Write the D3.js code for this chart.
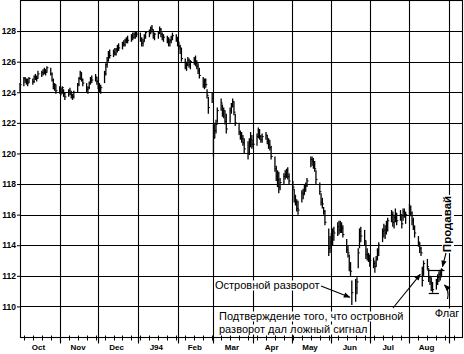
<!DOCTYPE html>
<html><head><meta charset="utf-8">
<script src="https://cdn.jsdelivr.net/npm/d3@7"></script>
<style>
html,body{margin:0;padding:0;background:#fff;}
svg{display:block;}
</style></head>
<body>
<svg id="c" width="464" height="354"></svg>
<script>
// ---------------- DATA ----------------
const firstDay = "1993-10-01";   // first trading day; one bar per weekday
const high = [
124.6,
125.0,125.0,124.9,124.9,125.0, 124.9,125.1,125.2,125.1,125.4, 125.4,125.5,125.6,125.5,125.7, 125.6,125.3,124.9,124.6,124.5,
124.4,124.3,124.4,124.2,124.0, 124.2,124.3,124.1,123.9,124.1, 124.6,125.0,125.4,125.3,124.9, 124.6,124.4,124.7,125.0,125.1,
125.2,125.0,124.8,124.6,124.5, 125.4,125.9,126.3,126.7,126.8, 126.8,126.9,126.9,127.1,127.2, 127.3,127.4,127.5,127.6,127.7,
127.8,127.9,127.9,128.0,128.0, 127.9,127.6,127.5,127.8,128.0, 128.1,128.3,128.4,128.1,127.9, 128.0,128.3,128.2,127.9,127.8,
127.7,127.6,127.5,127.7,127.9, 127.8,127.6,127.3,127.1,126.9, 126.2,126.0,126.3,126.2,126.1, 126.3,126.4,126.1,125.9,125.6,
125.0,124.9,124.9,124.2,123.7, 124.0,122.0,122.0,122.2,123.0, 123.6,123.2,123.0,122.8,122.6, 123.0,123.3,123.6,123.4,122.6,
122.0,121.5,121.4,121.2,121.0, 120.8,121.0,121.4,121.2,120.9, 121.3,121.7,121.6,121.2,121.3, 121.4,121.2,121.0,120.9,120.5,
119.8,119.2,118.9,118.8,118.4, 118.7,118.9,119.0,119.1,118.7, 118.2,117.7,117.3,117.0,116.9, 117.6,117.7,118.0,118.1,118.4,
119.8,119.8,119.7,119.5,118.9, 118.1,117.4,117.1,116.5,116.3, 115.1,114.6,114.8,115.1,115.2, 115.5,115.6,115.6,115.5,115.3,
114.4,114.0,113.4,112.9,111.7, 111.8,111.9,113.8,115.1,115.2, 115.0,114.3,113.8,113.5,113.4, 113.2,113.0,113.3,113.8,114.2,
115.1,115.4,115.3,115.6,115.8, 116.3,116.2,116.0,116.4,116.1, 116.3,116.0,116.4,116.4,116.2, 116.7,116.6,116.2,115.8,115.3,
114.6,114.2,113.9,112.6,113.0, 113.1,112.5,112.0,111.9,111.6, 111.8,112.1,112.3,112.4,112.5
];
const low = [
124.0,
124.4,124.6,124.5,124.4,124.6, 124.5,124.6,124.8,124.7,124.9, 125.0,125.1,125.2,125.1,125.3, 125.1,124.7,124.2,124.1,123.9,
123.9,123.8,123.9,123.7,123.5, 123.7,123.8,123.6,123.5,123.6, 124.0,124.4,124.8,124.7,124.4, 124.0,123.9,124.2,124.5,124.6,
124.7,124.5,124.2,124.0,123.9, 124.6,125.1,125.6,126.0,126.2, 126.3,126.4,126.4,126.6,126.7, 126.8,127.0,127.0,127.2,127.2,
127.3,127.4,127.5,127.5,127.6, 127.3,127.0,127.0,127.3,127.5, 127.6,127.8,127.9,127.5,127.4, 127.5,127.8,127.6,127.4,127.3,
127.2,127.0,127.0,127.2,127.4, 127.3,127.0,126.8,126.5,126.0, 125.5,125.4,125.7,125.6,125.5, 125.8,125.7,125.5,125.2,124.9,
124.3,124.2,124.3,123.6,122.6, 123.3,119.8,121.0,121.3,122.0, 122.8,122.4,122.3,121.9,121.3, 122.0,122.6,123.0,122.5,121.8,
121.2,120.9,120.7,120.5,120.0, 119.6,119.9,120.4,120.3,120.4, 120.5,121.0,120.9,120.7,120.7, 120.9,120.6,120.3,120.2,119.6,
118.8,118.2,117.8,117.4,117.6, 118.0,118.3,118.4,118.3,118.0, 117.6,116.8,116.6,116.2,116.0, 116.8,117.0,117.3,117.5,117.8,
119.1,119.2,119.0,118.8,118.0, 117.3,116.6,116.4,116.0,115.3, 113.3,113.5,113.8,114.0,114.3, 114.6,114.7,114.8,114.8,114.5,
113.5,113.2,112.3,112.0,110.1, 110.3,110.8,112.5,113.8,114.2, 114.0,113.1,113.0,112.9,112.6, 112.5,112.2,112.6,113.0,113.3,
114.2,114.5,114.4,114.7,114.9, 115.5,115.2,115.1,115.5,115.3, 115.6,115.1,115.6,115.8,115.4, 116.0,115.9,115.3,115.0,114.5,
113.9,113.5,113.3,111.3,112.0, 112.4,111.6,111.4,111.0,110.9, 111.1,111.4,111.6,111.7,111.9
];
const close = [
124.5,
124.9,124.8,124.7,124.6,124.9, 124.7,125.0,125.0,124.9,125.2, 125.3,125.2,125.5,125.3,125.6, 125.2,124.8,124.4,124.5,124.1,
124.2,124.0,124.3,123.9,123.7, 124.1,123.9,123.8,123.7,124.0, 124.5,124.9,125.3,124.8,124.6, 124.2,124.3,124.6,124.9,124.8,
125.0,124.7,124.4,124.2,124.3, 125.2,125.8,126.1,126.5,126.4, 126.6,126.5,126.8,127.0,126.9, 127.2,127.1,127.4,127.5,127.4,
127.7,127.6,127.8,127.9,127.8, 127.5,127.2,127.3,127.7,127.9, 127.9,128.2,128.1,127.7,127.8, 127.9,128.1,127.8,127.6,127.6,
127.5,127.3,127.4,127.6,127.7, 127.6,127.2,127.0,126.9,126.2, 125.7,125.8,126.1,125.8,126.0, 126.1,125.9,125.7,125.4,125.1,
124.5,124.8,124.5,123.8,123.0, 123.6,121.0,121.5,121.9,122.8, 123.3,122.6,122.8,122.1,121.6, 122.8,123.1,123.4,122.7,122.0,
121.4,121.2,121.0,120.7,120.3, 120.0,120.8,120.9,120.6,120.6, 121.1,121.5,121.1,120.9,121.1, 121.2,120.8,120.6,120.4,119.8,
119.0,118.5,118.3,117.8,118.1, 118.5,118.6,118.9,118.5,118.2, 117.8,117.1,116.8,116.4,116.3, 117.4,117.3,117.8,117.9,118.2,
119.6,119.5,119.2,119.0,118.3, 117.5,116.8,116.7,116.2,115.5, 113.8,114.2,114.4,114.9,114.8, 115.2,115.0,115.3,115.1,114.7,
113.7,113.5,112.6,112.3,110.9, 111.2,111.6,113.5,114.9,114.6, 114.3,113.4,113.3,113.1,113.0, 112.8,112.6,113.1,113.6,114.0,
114.9,115.0,114.8,115.4,115.6, 116.0,115.5,115.8,116.1,115.6, 116.0,115.4,116.2,116.0,116.0, 116.5,116.1,115.6,115.2,114.8,
114.2,113.8,113.5,111.7,112.8, 112.6,111.9,111.6,111.3,111.1, 111.6,111.9,112.1,112.2,112.4
];
const yTicks = [110,112,114,116,118,120,122,124,126,128];
const monthLabels = ["Oct","Nov","Dec","J94","Feb","Mar","Apr","May","Jun","Jul","Aug"];
const monthMids = ["1993-10-15","1993-11-15","1993-12-15","1994-01-15","1994-02-14","1994-03-15","1994-04-15","1994-05-15","1994-06-15","1994-07-15","1994-08-14"];
const monthStarts = ["1993-11-01","1993-12-01","1994-01-01","1994-02-01","1994-03-01","1994-04-01","1994-05-01","1994-06-01","1994-07-01","1994-08-01","1994-09-01"];
const gapLevel = 112.0, gapFrom = "1994-06-21", gapTo = "1994-08-11";
const flagTop = 112.4, flagTopFrom = "1994-08-15", flagTopTo = "1994-08-26";
const flagBottom = 110.9, flagBotFrom = "1994-08-16", flagBotTo = "1994-08-24";
const islandBar = "1994-06-17", islandVal = 110.6;
const confirmBar = "1994-08-11", confirmVal = 112.1;
const sellBar = "1994-08-26", sellVal = 112.6;
const flagBar = "1994-08-26", flagVal = 111.4;

// ---------------- SCALES ----------------
const parse = d3.timeParse("%Y-%m-%d");
const dates = [];
{
  let d = parse(firstDay);
  while (dates.length < high.length) {
    const wd = d.getDay();
    if (wd !== 0 && wd !== 6) dates.push(new Date(d));
    d = d3.timeDay.offset(d, 1);
  }
}
const L = 20, R = 462, T = 0.5, B = 337;
const x = d3.scaleTime().domain([parse("1993-10-01"), parse("1994-09-11")]).range([L, R]);
const y = d3.scaleLinear().domain([108, 130]).range([B, T]);

const svg = d3.select("#c");
const ink = "#000";
const px = v => Math.round(v) + 0.5;
const gw = 1.1;

// grid
const g = svg.append("g");
g.selectAll("line.h").data(yTicks).join("line")
  .attr("x1", L).attr("x2", R).attr("y1", d => px(y(d))).attr("y2", d => px(y(d)))
  .attr("stroke", ink).attr("stroke-width", gw);
g.selectAll("line.v").data(monthStarts.map(parse)).join("line")
  .attr("x1", d => px(x(d))).attr("x2", d => px(x(d))).attr("y1", T).attr("y2", B + 5)
  .attr("stroke", ink).attr("stroke-width", gw);
// frame
g.append("rect").attr("x", px(L)).attr("y", T).attr("width", px(R) - px(L)).attr("height", px(B) - T)
  .attr("fill", "none").attr("stroke", ink).attr("stroke-width", gw);

// y axis labels
const yAxis = d3.axisLeft(y).tickValues(yTicks).tickSize(3).tickPadding(1).tickFormat(d3.format("d"));
const ya = svg.append("g").attr("transform", `translate(${L},0)`).call(yAxis);
ya.select(".domain").remove();
ya.selectAll("line").attr("stroke", ink);
ya.selectAll("text").attr("font-family", "Liberation Sans, Arial, sans-serif")
  .attr("font-weight", "bold").attr("font-size", 8.5).attr("fill", ink);

// x axis: weekly minor ticks + month ticks + labels
const xa = svg.append("g").attr("transform", `translate(0,${px(B)})`);
xa.selectAll("line.wk").data(d3.timeMonday.range(x.domain()[0], x.domain()[1])).join("line")
  .attr("x1", d => px(x(d))).attr("x2", d => px(x(d))).attr("y1", -2).attr("y2", 3)
  .attr("stroke", ink).attr("stroke-width", 1);
xa.selectAll("line.mo").data(monthStarts.map(parse)).join("line")
  .attr("x1", d => px(x(d))).attr("x2", d => px(x(d))).attr("y1", 0).attr("y2", 6)
  .attr("stroke", ink).attr("stroke-width", gw);
const xAxis = d3.axisBottom(x).tickValues(monthMids.map(parse)).tickSize(0).tickPadding(7)
  .tickFormat((d, i) => monthLabels[i]);
const xg = svg.append("g").attr("transform", `translate(0,${B})`).call(xAxis);
xg.select(".domain").remove();
xg.selectAll("text").attr("font-family", "Liberation Sans, Arial, sans-serif")
  .attr("font-weight", "bold").attr("font-size", 8).attr("fill", ink);

// price bars
const bars = svg.append("g");
bars.selectAll("line.hl").data(dates).join("line")
  .attr("x1", d => x(d)).attr("x2", d => x(d))
  .attr("y1", (d, i) => y(high[i])).attr("y2", (d, i) => y(low[i]))
  .attr("stroke", "#000").attr("stroke-width", 1.3);
bars.selectAll("line.cl").data(dates).join("line")
  .attr("x1", d => x(d)).attr("x2", d => x(d) + 1.6)
  .attr("y1", (d, i) => y(close[i])).attr("y2", (d, i) => y(close[i]))
  .attr("stroke", "#000").attr("stroke-width", 1);

// annotations
const defs = svg.append("defs");
defs.append("marker").attr("id", "ah").attr("viewBox", "0 0 10 10").attr("refX", 9).attr("refY", 5)
  .attr("markerWidth", 7).attr("markerHeight", 6).attr("orient", "auto-start-reverse")
  .append("path").attr("d", "M0,1 L10,5 L0,9 z").attr("fill", "#000");

const ann = svg.append("g");
ann.append("line")
  .attr("x1", x(parse(gapFrom))).attr("x2", x(parse(gapTo)))
  .attr("y1", px(y(gapLevel))).attr("y2", px(y(gapLevel)))
  .attr("stroke", "#000").attr("stroke-width", 1).attr("stroke-dasharray", "2.5,2");
ann.append("line")
  .attr("x1", x(parse(flagTopFrom))).attr("x2", x(parse(flagTopTo)) + 3)
  .attr("y1", px(y(flagTop))).attr("y2", px(y(flagTop)))
  .attr("stroke", "#000").attr("stroke-width", 1.2);
ann.append("line")
  .attr("x1", x(parse(flagBotFrom))).attr("x2", x(parse(flagBotTo)))
  .attr("y1", px(y(flagBottom))).attr("y2", px(y(flagBottom)))
  .attr("stroke", "#000").attr("stroke-width", 1.2);

function label(txt, xx, yy, opts = {}) {
  const grp = ann.append("g");
  const t = grp.append("text").attr("x", xx).attr("y", yy)
    .attr("font-family", "Liberation Sans, Arial, sans-serif")
    .attr("font-size", opts.size || 11).attr("font-weight", opts.weight || "normal")
    .attr("fill", "#000").text(txt);
  if (opts.rotate) t.attr("transform", `rotate(-90,${xx},${yy})`).attr("text-anchor", "middle");
  if (opts.anchor) t.attr("text-anchor", opts.anchor);
  const bb = t.node().getBBox();
  const r = grp.insert("rect", "text").attr("fill", "#fff");
  if (opts.rotate) {
    r.attr("x", xx - bb.height * 0.75).attr("width", bb.height)
     .attr("y", yy - bb.width / 2 - 1).attr("height", bb.width + 2);
  } else {
    r.attr("x", bb.x - 1).attr("y", bb.y + 1.5).attr("width", bb.width + 2).attr("height", bb.height - 2);
  }
  return t;
}
label("Островной разворот", 215, 289);
label("Подтверждение того, что островной", 219, 320);
label("разворот дал ложный сигнал", 219, 333);
label("Флаг", 447, 317, {anchor: "middle"});
label("Продавай", 451, 224, {rotate: true, weight: "bold", size: 11.5});

// arrows
ann.append("line").attr("x1", 321).attr("y1", 286)
  .attr("x2", x(parse(islandBar)) - 2).attr("y2", y(islandVal))
  .attr("stroke", "#000").attr("stroke-width", 1.1).attr("marker-end", "url(#ah)");
ann.append("line").attr("x1", 393).attr("y1", 308)
  .attr("x2", x(parse(confirmBar)) - 2).attr("y2", y(confirmVal))
  .attr("stroke", "#000").attr("stroke-width", 1.1).attr("marker-end", "url(#ah)");
ann.append("line").attr("x1", 446).attr("y1", 253)
  .attr("x2", x(parse(sellBar)) + 1).attr("y2", y(sellVal))
  .attr("stroke", "#000").attr("stroke-width", 1.1).attr("marker-end", "url(#ah)");
const fx = x(parse(flagBar)) + 3, fy = y(flagVal);
ann.append("path").attr("d", `M${fx + 3},${fy + 14} Q${fx + 5},${fy + 5} ${fx},${fy}`)
  .attr("fill", "none").attr("stroke", "#000").attr("stroke-width", 1.1).attr("marker-end", "url(#ah)");
</script>
</body></html>
